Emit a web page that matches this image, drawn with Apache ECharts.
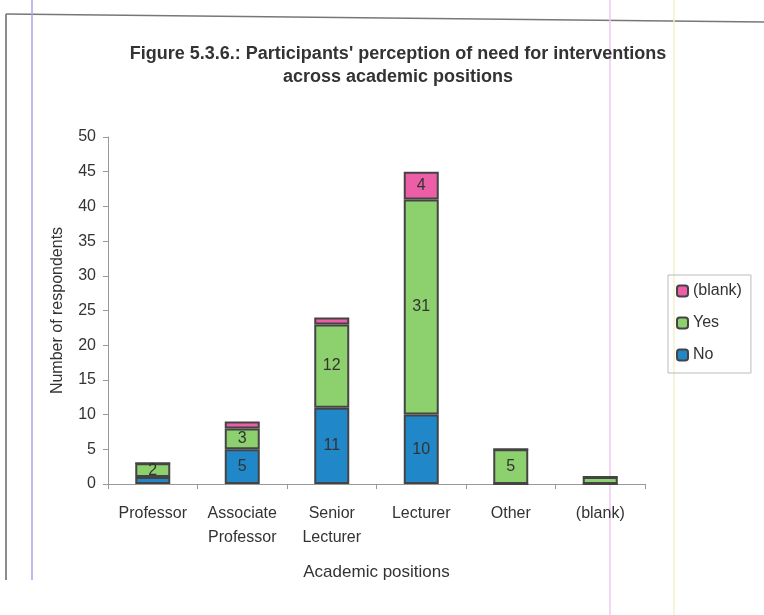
<!DOCTYPE html>
<html>
<head>
<meta charset="utf-8">
<script src="https://cdn.jsdelivr.net/npm/echarts@6/dist/echarts.min.js"></script>
<style>
html,body{margin:0;padding:0;background:#fff;}
#chart{width:764px;height:615px;}
</style>
</head>
<body>
<div id="chart"></div>
<script>
// Academic positions and responses per position
const categories = ['Professor', 'Associate\nProfessor', 'Senior\nLecturer', 'Lecturer', 'Other', '(blank)'];
const noValues = [1, 5, 11, 10, 0, 0];
const yesValues = [2, 3, 12, 31, 5, 1];
const blankValues = [0, 1, 1, 4, 0, 0];
const yTicks = [0, 5, 10, 15, 20, 25, 30, 35, 40, 45, 50];

const FONT = "'Liberation Sans', Arial, sans-serif";
const chart = echarts.init(document.getElementById('chart'));

const labelCfg = {
  show: true,
  position: 'inside',
  color: '#333',
  fontFamily: FONT,
  fontSize: 16,
  formatter: p => (p.value > 1 ? String(p.value) : '')
};

function series(name, data, color) {
  return {
    name, type: 'bar', stack: 'total', data,
    barWidth: 35,
    itemStyle: { color, borderColor: '#444', borderWidth: 2 },
    label: labelCfg
  };
}

chart.setOption({
  animation: false,
  title: {
    text: "Figure 5.3.6.: Participants' perception of need for interventions\nacross academic positions",
    left: 393, top: 38, textAlign: 'center',
    textStyle: { fontFamily: FONT, fontWeight: 'bold', fontSize: 18, color: '#333', lineHeight: 23 }
  },
  legend: {
    orient: 'vertical', left: 668, top: 275,
    data: ['(blank)', 'Yes', 'No'],
    itemWidth: 11, itemHeight: 11, itemGap: 16,
    padding: [8, 9, 10, 8],
    borderColor: '#bbb', borderWidth: 1,
    textStyle: { fontFamily: FONT, fontSize: 16, color: '#333' },
    itemStyle: { borderColor: '#444', borderWidth: 2 }
  },
  grid: { left: 108, right: 119, top: 137, bottom: 131 },
  xAxis: {
    type: 'category', data: categories,
    name: 'Academic positions', nameLocation: 'middle', nameGap: 80,
    nameTextStyle: { fontFamily: FONT, fontSize: 17, color: '#333' },
    axisLine: { lineStyle: { color: '#999' } },
    axisTick: { show: true, length: 5, lineStyle: { color: '#999' } },
    axisLabel: { interval: 0, fontFamily: FONT, fontSize: 16, color: '#333', lineHeight: 24, margin: 18 }
  },
  yAxis: {
    type: 'value', min: yTicks[0], max: yTicks[yTicks.length - 1], interval: 5,
    name: 'Number of respondents', nameLocation: 'middle', nameGap: 42,
    nameTextStyle: { fontFamily: FONT, fontSize: 16, color: '#333' },
    axisLine: { show: true, lineStyle: { color: '#999' } },
    axisTick: { show: true, length: 5, lineStyle: { color: '#999' } },
    splitLine: { show: false },
    axisLabel: { fontFamily: FONT, fontSize: 16, color: '#333', margin: 12 }
  },
  series: [
    series('No', noValues, '#2088c9'),
    series('Yes', yesValues, '#8dd16e'),
    series('(blank)', blankValues, '#ec5ea6')
  ],
  graphic: [
    { type: 'line', shape: { x1: 6, y1: 14, x2: 6, y2: 580 }, style: { stroke: '#666', lineWidth: 1.5 } },
    { type: 'line', shape: { x1: 6, y1: 14, x2: 764, y2: 22 }, style: { stroke: '#777', lineWidth: 1.5 } },
    { type: 'line', shape: { x1: 32, y1: 0, x2: 32, y2: 580 }, style: { stroke: '#a9a6e8', lineWidth: 1.5 } },
    { type: 'line', shape: { x1: 610, y1: 0, x2: 610, y2: 615 }, style: { stroke: '#f0c8f0', lineWidth: 1.5 } },
    { type: 'line', shape: { x1: 674, y1: 0, x2: 674, y2: 615 }, style: { stroke: '#f4f2cc', lineWidth: 1.5 } }
  ]
});
</script>
</body>
</html>
